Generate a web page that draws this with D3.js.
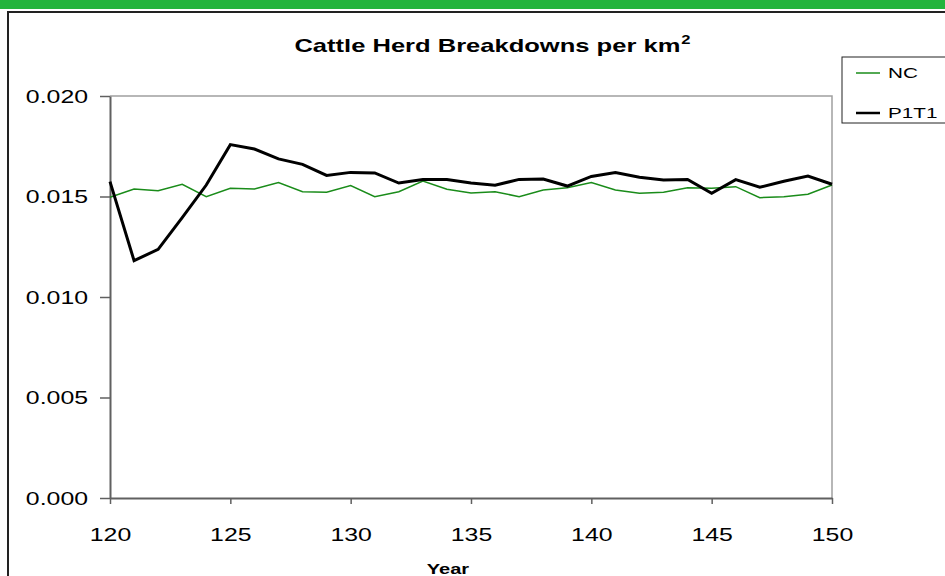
<!DOCTYPE html>
<html>
<head>
<meta charset="utf-8">
<script src="https://cdn.jsdelivr.net/npm/d3@7"></script>
<style>
  body { margin: 0; background: #fff; }
  svg { display: block; font-family: "Liberation Sans", Arial, sans-serif; }
</style>
</head>
<body>
<svg id="chart" width="945" height="576"></svg>
<script>
// years on the x axis
var years = d3.range(120, 151);

// NC (green, thin)
var ncValues = [0.01496, 0.01537, 0.01529, 0.01561, 0.01499, 0.01541, 0.01537, 0.01569, 0.01524, 0.01521,
  0.01554, 0.01499, 0.01524, 0.01577, 0.01536, 0.01517, 0.01524, 0.01499, 0.01532, 0.01544,
  0.01569, 0.01532, 0.01516, 0.01521, 0.01544, 0.01541, 0.01549, 0.01494, 0.01499, 0.01511, 0.01557];

// P1T1 (black, thick)
var p1t1Values = [0.01574, 0.01181, 0.01237, 0.01395, 0.01557, 0.01758, 0.01736, 0.01687, 0.0166, 0.01605,
  0.0162, 0.01617, 0.01567, 0.01585, 0.01585, 0.01567, 0.01556, 0.01585, 0.01587, 0.01552,
  0.016, 0.01619, 0.01596, 0.01582, 0.01585, 0.01516, 0.01584, 0.01546, 0.01576, 0.01602, 0.01561];

var xTicks = [120, 125, 130, 135, 140, 145, 150];
var yTicks = [0, 0.005, 0.010, 0.015, 0.020];

var series = [
  {name: "NC", values: ncValues, color: "#1a8c1a", width: 1.5},
  {name: "P1T1", values: p1t1Values, color: "#000", width: 3}
];

// the original text is drawn wide, so stretch glyphs horizontally
var STRETCH = 1.38;
function stretch(sel) {
  sel.each(function() {
    var w = this.getComputedTextLength();
    d3.select(this).attr("textLength", w * STRETCH).attr("lengthAdjust", "spacingAndGlyphs");
  });
}

var svg = d3.select("#chart");

// green strip on top + outer frame
svg.append("rect").attr("x", 0).attr("y", 0).attr("width", 945).attr("height", 9).attr("fill", "#22b43c");
svg.append("path").attr("d", "M8,580 L8,12 L950,12").attr("fill", "none").attr("stroke", "#222").attr("stroke-width", 2);

var x = d3.scaleLinear().domain([120, 150]).range([110, 832]);
var y = d3.scaleLinear().domain([0, 0.02]).range([498, 96]);

// plot area border (top and right)
svg.append("path").attr("d", "M110,96 L832,96 L832,498")
  .attr("fill", "none").attr("stroke", "#a0a0a0").attr("stroke-width", 1.5);

var xAxis = svg.append("g").attr("transform", "translate(0,498)")
  .call(d3.axisBottom(x).tickValues(xTicks).tickFormat(d3.format("d")).tickSizeOuter(0).tickSizeInner(6).tickPadding(24));
var yAxis = svg.append("g").attr("transform", "translate(110,0)")
  .call(d3.axisLeft(y).tickValues(yTicks).tickFormat(d3.format(".3f")).tickSizeOuter(0).tickSizeInner(10).tickPadding(12));

[xAxis, yAxis].forEach(function(a) {
  a.select(".domain").attr("stroke", "#606060").attr("stroke-width", 2);
  a.selectAll(".tick line").attr("stroke", "#606060").attr("stroke-width", 1.5);
  a.selectAll("text").attr("fill", "#000").style("font-size", "18px").style("font-family", "'Liberation Sans', Arial, sans-serif");
  stretch(a.selectAll("text"));
});
yAxis.selectAll("text").attr("dy", "0.35em");

var line = d3.line()
  .x(function(d, i) { return x(years[i]); })
  .y(function(d) { return y(d); });

series.forEach(function(s) {
  svg.append("path").datum(s.values)
    .attr("fill", "none").attr("stroke", s.color).attr("stroke-width", s.width)
    .attr("stroke-linejoin", "miter").attr("d", line);
});

// title (main text + superscript placed after it)
var title = svg.append("text").attr("y", 52)
  .style("font-size", "18.5px").style("font-weight", "bold").text("Cattle Herd Breakdowns per km");
stretch(title);
var sup = svg.append("text").attr("y", 44)
  .style("font-size", "12px").style("font-weight", "bold").text("2");
stretch(sup);
var tw = +title.attr("textLength"), sw = +sup.attr("textLength");
var tx = 492 - (tw + sw) / 2;
title.attr("x", tx);
sup.attr("x", tx + tw + 1);

// x axis title
var yt = svg.append("text").attr("x", 448).attr("y", 574).attr("text-anchor", "middle")
  .style("font-size", "14.5px").style("font-weight", "bold").text("Year");
stretch(yt);

// legend
var lg = svg.append("g");
lg.append("rect").attr("x", 842).attr("y", 57).attr("width", 110).attr("height", 66)
  .attr("fill", "#fff").attr("stroke", "#222").attr("stroke-width", 1);
series.forEach(function(s, i) {
  var ly = 73 + i * 40;
  lg.append("line").attr("x1", 856).attr("x2", 880).attr("y1", ly).attr("y2", ly)
    .attr("stroke", s.color).attr("stroke-width", s.width === 3 ? 2.5 : 1.5);
  var t = lg.append("text").attr("x", 888).attr("y", ly).attr("dy", "0.35em")
    .style("font-size", "15px").text(s.name);
  stretch(t);
});
</script>
</body>
</html>
